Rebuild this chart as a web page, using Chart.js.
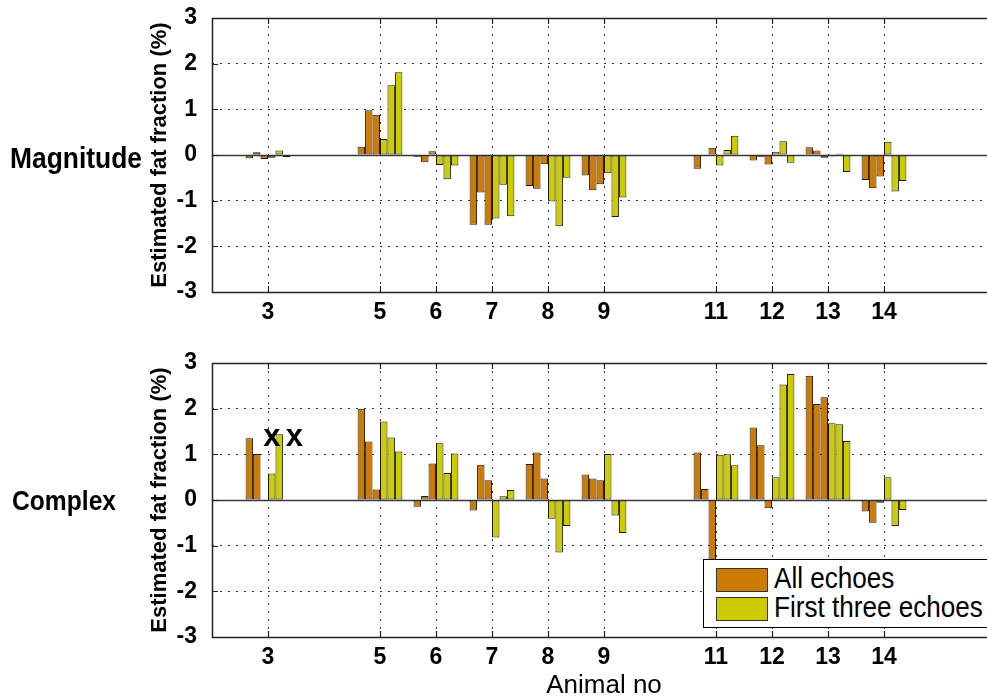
<!DOCTYPE html>
<html>
<head>
<meta charset="utf-8">
<script src="https://cdn.jsdelivr.net/npm/chart.js@4.4.0/dist/chart.umd.min.js"></script>
<style>
body { margin: 0; width: 987px; height: 699px; overflow: hidden; background: #fff;
       font-family: "Liberation Sans", Arial, sans-serif; position: relative; }
canvas { position: absolute; left: 0; }
#magCanvas { top: 0; }
#cplxCanvas { top: 345px; }
.panelLabel { position: absolute; font-weight: bold; line-height: 1; transform-origin: 0 0; transform: scaleX(0.88); }
#legend { position: absolute; left: 703px; top: 559px; width: 310px; height: 67px;
          border: 1px solid #000; background: #fff; }
.item { position: absolute; left: 0; height: 30px; }
.swatch { position: absolute; left: 12px; width: 50px; height: 22px; border: 1px solid #333; }
.item span { position: absolute; left: 70px; top: -5px; white-space: nowrap; font-size: 30px; line-height: 1;
             transform-origin: 0 0; transform: scaleX(0.87); }
</style>
</head>
<body>
<canvas id="magCanvas" width="1000" height="340"></canvas>
<canvas id="cplxCanvas" width="1000" height="354"></canvas>
<div class="panelLabel" style="left:10px; top:143px; font-size:30px;">Magnitude</div>
<div class="panelLabel" style="left:12px; top:487px; font-size:28px;">Complex</div>
<div id="legend">
  <div class="item" style="top:8px;"><div class="swatch" style="background:#CC7A00;"></div><span>All echoes</span></div>
  <div class="item" style="top:37px;"><div class="swatch" style="background:#CCCC00;"></div><span>First three echoes</span></div>
</div>
<script>
// Animals that have measurements, and the full axis range (2..16)
const animals = [3, 5, 6, 7, 8, 9, 11, 12, 13, 14];
const axisLabels = ['2', '3', '4', '5', '6', '7', '8', '9', '10', '11', '12', '13', '14', '15', '16'];

// Magnitude fitting: three bars per animal for each echo setting
const magAllEchoes = [
    [-0.07, 0.06, -0.09], [0.18, 0.98, 0.88], [-0.04, -0.16, 0.08], [-1.53, -0.82, -1.53],
    [-0.68, -0.74, -0.20], [-0.45, -0.77, -0.64], [-0.30, -0.02, 0.16], [-0.12, -0.04, -0.21],
    [0.17, 0.10, -0.06], [-0.55, -0.73, -0.47]
];
const magFirstThree = [
    [-0.06, 0.10, -0.05], [0.35, 1.53, 1.81], [-0.22, -0.53, -0.23], [-1.39, -0.65, -1.34],
    [-1.02, -1.56, -0.50], [-0.40, -1.36, -0.93], [-0.23, 0.11, 0.42], [0.07, 0.30, -0.17],
    [-0.03, 0.03, -0.37], [0.29, -0.80, -0.57]
];

// Complex fitting
const cplxAllEchoes = [
    [1.35, 1.01, 0], [2.00, 1.28, 0.23], [-0.15, 0.09, 0.80], [-0.23, 0.77, 0.43],
    [0.79, 1.04, 0.47], [0.56, 0.47, 0.43], [1.04, 0.24, -1.90], [1.59, 1.20, -0.18],
    [2.72, 2.10, 2.25], [-0.25, -0.50, -0.06]
];
const cplxFirstThree = [
    [0.58, 1.44, 0], [1.72, 1.37, 1.06], [1.24, 0.59, 1.02], [-0.82, 0.08, 0.22],
    [-0.41, -1.15, -0.57], [1.01, -0.34, -0.72], [0.99, 1.00, 0.76], [0.50, 2.53, 2.76],
    [1.68, 1.66, 1.29], [0.50, -0.57, -0.22]
];

// Failed fits marked with an "x" (animal, bar index within group, height)
const missingAnimal = 3;
const missingBars = [2, 5];
const missingY = 1.3;

const orange = '#CC7A00';
const yellow = '#CCCC00';
const fontFamily = '"Liberation Sans", Arial, sans-serif';

function makeDatasets(allEchoes, firstThree) {
    let datasets = [];
    let groups = [[allEchoes, 'All echoes', orange], [firstThree, 'First three echoes', yellow]];
    for (let g = 0; g < groups.length; g++) {
        for (let k = 0; k < 3; k++) {
            datasets.push({
                label: groups[g][1],
                data: animals.map(function(a, i) {
                    return {x: String(a), y: groups[g][0][i][k]};
                }),
                backgroundColor: groups[g][2],
                borderColor: '#1a1a1a',
                borderWidth: 1,
                borderSkipped: false,
                categoryPercentage: 0.8,
                barPercentage: 1.0
            });
        }
    }
    return datasets;
}

// Draws the zero line, the box round the axes, tick marks and the "x" marks
const framePlugin = {
    id: 'frame',
    beforeDatasetsDraw(chart) {
        const ctx = chart.ctx;
        const a = chart.chartArea;
        const y0 = Math.round(chart.scales.y.getPixelForValue(0)) + 0.5;
        ctx.save();
        ctx.strokeStyle = '#3a3a3a';
        ctx.lineWidth = 1.5;
        ctx.beginPath();
        ctx.moveTo(a.left, y0);
        ctx.lineTo(a.right, y0);
        ctx.stroke();
        ctx.restore();
    },
    afterDatasetsDraw(chart, args, opts) {
        const ctx = chart.ctx;
        const a = chart.chartArea;
        const xs = chart.scales.x;
        const ys = chart.scales.y;
        ctx.save();
        ctx.strokeStyle = '#222';
        ctx.lineWidth = 1.5;
        ctx.strokeRect(a.left + 0.5, a.top + 0.5, a.right - a.left, a.bottom - a.top);
        ctx.lineWidth = 1.2;
        ctx.beginPath();
        for (let i = 0; i < axisLabels.length; i++) {
            if (animals.indexOf(Number(axisLabels[i])) < 0) continue;
            const px = Math.round(xs.getPixelForTick(i)) + 0.5;
            ctx.moveTo(px, a.bottom);
            ctx.lineTo(px, a.bottom - 6);
            ctx.moveTo(px, a.top);
            ctx.lineTo(px, a.top + 6);
        }
        for (let v = -2; v <= 2; v++) {
            const py = Math.round(ys.getPixelForValue(v)) + 0.5;
            ctx.moveTo(a.left, py);
            ctx.lineTo(a.left + 6, py);
        }
        ctx.stroke();
        if (opts.marks) {
            const idx = animals.indexOf(missingAnimal);
            ctx.fillStyle = '#000';
            ctx.font = 'bold 31px ' + fontFamily;
            ctx.textAlign = 'left';
            ctx.textBaseline = 'middle';
            for (let m = 0; m < missingBars.length; m++) {
                const bar = chart.getDatasetMeta(missingBars[m]).data[idx];
                ctx.fillText('x', bar.x - 1, ys.getPixelForValue(missingY) - 3);
            }
        }
        ctx.restore();
    }
};

function makePanel(canvasId, allEchoes, firstThree, xHeight, showTitle, marks) {
    const ctx = document.getElementById(canvasId);
    const config = {
        type: 'bar',
        data: {
            labels: axisLabels,
            datasets: makeDatasets(allEchoes, firstThree)
        },
        options: {
            responsive: false,
            animation: false,
            devicePixelRatio: 1,
            layout: {padding: {left: 145, right: 4, top: 18, bottom: 0}},
            plugins: {
                legend: {display: false},
                tooltip: {enabled: false},
                frame: {marks: marks}
            },
            scales: {
                x: {
                    type: 'category',
                    offset: false,
                    afterFit: function(scale) {
                        scale.height = xHeight;
                        scale.paddingLeft = 0;
                        scale.paddingRight = 0;
                    },
                    grid: {
                        offset: false,
                        drawTicks: false,
                        color: function(c) {
                            const lab = axisLabels[c.index];
                            return animals.indexOf(Number(lab)) >= 0 ? '#333' : 'rgba(0,0,0,0)';
                        }
                    },
                    border: {display: false, dash: [2, 6]},
                    ticks: {
                        autoSkip: false,
                        maxRotation: 0,
                        padding: 7,
                        color: '#000',
                        font: {family: fontFamily, size: 23, weight: 'bold'},
                        callback: function(value) {
                            const lab = axisLabels[value];
                            return animals.indexOf(Number(lab)) >= 0 ? lab : '';
                        }
                    },
                    title: {
                        display: showTitle,
                        text: 'Animal no',
                        color: '#000',
                        padding: {top: 0, bottom: 0},
                        font: {family: fontFamily, size: 26, lineHeight: 1}
                    }
                },
                y: {
                    min: -3,
                    max: 3,
                    afterFit: function(scale) {
                        scale.width = 67;
                        scale.paddingTop = 0;
                        scale.paddingBottom = 0;
                    },
                    grid: {
                        drawTicks: false,
                        color: function(c) {
                            const v = c.tick ? c.tick.value : 0;
                            return (v === 0 || Math.abs(v) === 3) ? 'rgba(0,0,0,0)' : '#333';
                        }
                    },
                    border: {display: false, dash: [2, 6]},
                    ticks: {
                        stepSize: 1,
                        padding: 15,
                        color: '#000',
                        font: {family: fontFamily, size: 23, weight: 'bold'}
                    },
                    title: {
                        display: true,
                        text: 'Estimated fat fraction (%)',
                        color: '#000',
                        padding: {top: 2, bottom: 0},
                        font: {family: fontFamily, size: 22, weight: 'bold'}
                    }
                }
            }
        },
        plugins: [framePlugin]
    };
    return new Chart(ctx, config);
}

makePanel('magCanvas', magAllEchoes, magFirstThree, 48, false, false);
makePanel('cplxCanvas', cplxAllEchoes, cplxFirstThree, 62, true, true);
</script>
</body>
</html>
